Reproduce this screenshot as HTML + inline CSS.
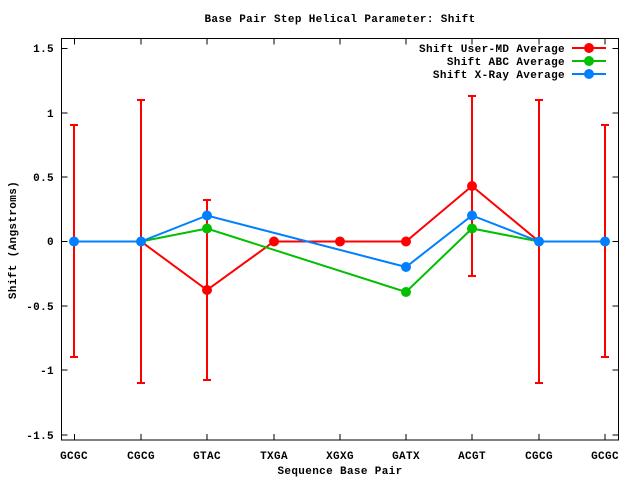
<!DOCTYPE html>
<html><head><style>body{margin:0;background:#fff}</style></head><body>
<svg width="640" height="480" xmlns="http://www.w3.org/2000/svg" font-family="Liberation Mono, monospace" font-size="11" font-weight="bold" letter-spacing="0.35">
<rect width="640" height="480" fill="#fff"/>
<text x="340" y="22" text-anchor="middle">Base Pair Step Helical Parameter: Shift</text>
<text x="340" y="474" text-anchor="middle">Sequence Base Pair</text>
<text transform="translate(16,240) rotate(-90)" text-anchor="middle">Shift (Angstroms)</text>
<g stroke="#000" stroke-width="1">
<rect x="61.5" y="38.5" width="557" height="401.5" fill="none"/>
<path d="M61.5 48.5h6M61.5 113h6M61.5 177h6M61.5 241.5h6M61.5 306h6M61.5 370h6M61.5 435h6M618.5 48.5h-6M618.5 113h-6M618.5 177h-6M618.5 241.5h-6M618.5 306h-6M618.5 370h-6M618.5 435h-6"/>
<path d="M74.5 440v-6M141 440v-6M207 440v-6M274 440v-6M340 440v-6M406 440v-6M472 440v-6M539 440v-6M605 440v-6M74.5 38.5v6M141 38.5v6M207 38.5v6M274 38.5v6M340 38.5v6M406 38.5v6M472 38.5v6M539 38.5v6M605 38.5v6"/>
</g>
<g text-anchor="end">
<text x="54" y="52">1.5</text><text x="54" y="117">1</text><text x="54" y="181">0.5</text><text x="54" y="245">0</text><text x="54" y="310">-0.5</text><text x="54" y="374">-1</text><text x="54" y="439">-1.5</text>
</g>
<g text-anchor="middle">
<text x="74" y="459">GCGC</text><text x="141" y="459">CGCG</text><text x="207" y="459">GTAC</text><text x="274" y="459">TXGA</text><text x="340" y="459">XGXG</text><text x="406" y="459">GATX</text><text x="472" y="459">ACGT</text><text x="539" y="459">CGCG</text><text x="605" y="459">GCGC</text>
</g>
<g stroke="#f00" stroke-width="2" fill="none">
<path d="M74 125v232M70 125h8M70 357h8M141 100v283M137 100h8M137 383h8M207 200v180M203 200h8M203 380h8M472 96v180M468 96h8M468 276h8M539 100v283M535 100h8M535 383h8M605 125v232M601 125h8M601 357h8"/>
<path d="M74 241.5L141 241.5L207 290L274 241.5L340 241.5L406 241.5L472 186L539 241.5L605 241.5"/>
</g>
<g fill="#f00"><circle cx="207" cy="290" r="5"/><circle cx="274" cy="241.5" r="5"/><circle cx="340" cy="241.5" r="5"/><circle cx="406" cy="241.5" r="5"/><circle cx="472" cy="186" r="5"/></g>
<path d="M74 241.5L141 241.5L207 228.5L406 292L472 228.5L539 241.5L605 241.5" stroke="#00c000" stroke-width="2" fill="none"/>
<g fill="#00c000"><circle cx="207" cy="228.5" r="5"/><circle cx="406" cy="292" r="5"/><circle cx="472" cy="228.5" r="5"/></g>
<path d="M74 241.5L141 241.5L207 215.5L406 267L472 215.5L539 241.5L605 241.5" stroke="#0080ff" stroke-width="2" fill="none"/>
<g fill="#0080ff"><circle cx="74" cy="241.5" r="5"/><circle cx="141" cy="241.5" r="5"/><circle cx="207" cy="215.5" r="5"/><circle cx="406" cy="267" r="5"/><circle cx="472" cy="215.5" r="5"/><circle cx="539" cy="241.5" r="5"/><circle cx="605" cy="241.5" r="5"/></g>
<g text-anchor="end">
<text x="565" y="52">Shift User-MD Average</text>
<text x="565" y="65">Shift ABC Average</text>
<text x="565" y="78">Shift X-Ray Average</text>
</g>
<path d="M572 48h34" stroke="#f00" stroke-width="2"/><circle cx="589" cy="48" r="5" fill="#f00"/>
<path d="M572 61h34" stroke="#00c000" stroke-width="2"/><circle cx="589" cy="61" r="5" fill="#00c000"/>
<path d="M572 74h34" stroke="#0080ff" stroke-width="2"/><circle cx="589" cy="74" r="5" fill="#0080ff"/>
</svg>
</body></html>
